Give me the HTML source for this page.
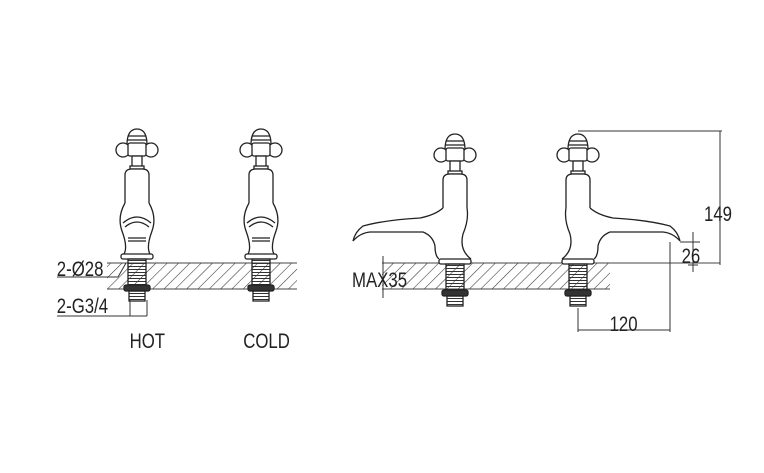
<!DOCTYPE html>
<html><head><style>body{margin:0;background:#fff}svg{display:block}text{font-family:"Liberation Sans",sans-serif;font-size:21px;fill:#222}</style></head><body>
<svg width="764" height="473" viewBox="0 0 764 473" xmlns="http://www.w3.org/2000/svg">
<defs>
<pattern id="h" width="8" height="8" patternUnits="userSpaceOnUse" patternTransform="rotate(45)"><line x1="0" y1="0" x2="0" y2="8" stroke="#333" stroke-width="1.1"/></pattern>
<pattern id="th" width="4" height="3" patternUnits="userSpaceOnUse"><line x1="0" y1="1.5" x2="4" y2="1.5" stroke="#333" stroke-width="1"/></pattern>
<g id="top" fill="#fff" stroke="#222" stroke-width="1.3">
<path d="M-10,150 Q-10,134 0,134 Q10,134 10,150 Z"/>
<line x1="-9" y1="141" x2="9" y2="141"/><line x1="-10" y1="145" x2="10" y2="145"/>
<circle cx="-14" cy="155" r="7"/><circle cx="14" cy="155" r="7"/>
<rect x="-9" y="148" width="18" height="13" rx="2"/>
<rect x="-5" y="161" width="10" height="12"/>
<rect x="-7" y="171" width="14" height="3"/>
<path d="M-12,208 L-12,180 Q-12,174 -5,174 L5,174 Q12,174 12,180 L12,208"/>
</g>
<g id="base" stroke="#222" stroke-width="1.3">
<rect x="-16" y="259" width="32" height="5" rx="2" fill="#fff"/>
<rect x="-9" y="264" width="18" height="26" fill="url(#th)"/>
<rect x="-13" y="290" width="26" height="6" rx="2" fill="#333"/>
<rect x="-8" y="296" width="16" height="10" fill="url(#th)"/>
</g>
<g id="front">
<use href="#top"/>
<path d="M-12,208 Q-20,222 -15,236 Q-9,252 -13,259 M12,208 Q20,222 15,236 Q9,252 13,259" fill="none" stroke="#222" stroke-width="1.3"/>
<path d="M-14,228 Q0,216 14,228 M-12,232 Q0,222 12,232 M-9,243 L9,243 M-9,246 L9,246" fill="none" stroke="#222" stroke-width="1.3"/>
<use href="#base"/>
</g>
<g id="side">
<use href="#top"/>
<path d="M-12,208 Q-20,215 -35,218 Q-70,220 -92,226 Q-100,232 -102,241 Q-95,233 -85,232 L-32,232 Q-22,236 -20,246 Q-20,256 -16,259" fill="none" stroke="#222" stroke-width="1.3"/>
<path d="M12,208 Q14,220 8,234 Q4,250 16,259" fill="none" stroke="#222" stroke-width="1.3"/>
<use href="#base"/>
</g>
</defs>
<rect x="107" y="263" width="190" height="26" fill="url(#h)"/>
<line x1="107" y1="263" x2="297" y2="263" stroke="#444"/><line x1="107" y1="289" x2="297" y2="289" stroke="#444"/>
<rect x="382" y="263" width="228" height="26" fill="url(#h)"/>
<line x1="382" y1="263" x2="720" y2="263" stroke="#444"/><line x1="382" y1="289" x2="610" y2="289" stroke="#444"/>
<use href="#front" transform="translate(137,-5)"/>
<use href="#front" transform="translate(261,-5)"/>
<use href="#side" transform="translate(455,0)"/>
<use href="#side" transform="translate(578,0) scale(-1,1)"/>
<g stroke="#333" stroke-width="1" fill="none">
<line x1="578" y1="131" x2="722" y2="131"/><line x1="720" y1="131" x2="720" y2="265"/>
<line x1="680" y1="242" x2="700" y2="242"/><line x1="693" y1="232" x2="693" y2="272"/><line x1="688" y1="265" x2="698" y2="265"/>
<line x1="670" y1="242" x2="670" y2="332"/><line x1="578" y1="308" x2="578" y2="332"/><line x1="578" y1="330" x2="670" y2="330"/>
<line x1="383" y1="256" x2="383" y2="298"/>
<line x1="57" y1="277" x2="118" y2="277"/><line x1="118" y1="277" x2="126" y2="263"/>
<line x1="57" y1="316" x2="147" y2="316"/><line x1="130" y1="300" x2="130" y2="316"/><line x1="147" y1="300" x2="147" y2="316"/>
</g>
<g transform="scale(0.8,1)">
<text x="71" y="276">2-Ø28</text>
<text x="71" y="313">2-G3/4</text>
<text x="162" y="348">HOT</text>
<text x="304" y="348">COLD</text>
<text x="440" y="287">MAX35</text>
<text x="762" y="331">120</text>
<text x="852" y="263">26</text>
<text x="880" y="221">149</text>
</g>
</svg>
</body></html>
